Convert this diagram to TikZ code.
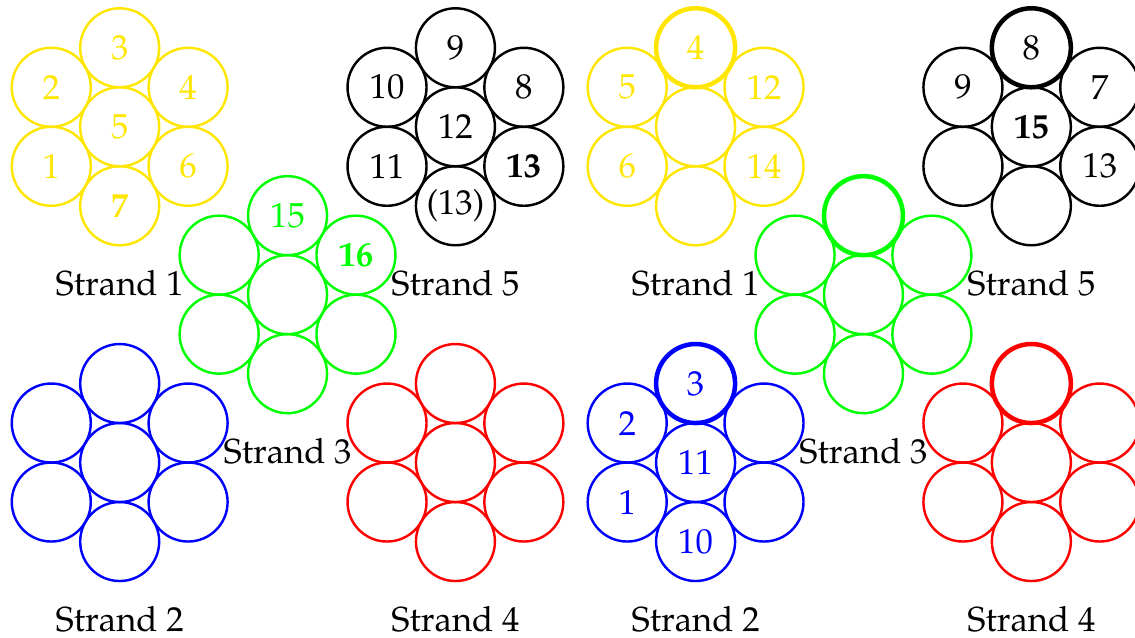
\documentclass[tikz,border=0pt]{standalone}
\usepackage[T1]{fontenc}
\usepackage{mathpazo}
\definecolor{wireyellow}{RGB}{255,230,0}
\definecolor{wiregreen}{RGB}{0,255,0}
\begin{document}
\begin{tikzpicture}[x=0.4cm, y=0.4cm,
  wire/.style={circle, draw, minimum size=8mm, inner sep=0pt, line width=0.7pt},
  lead/.style={line width=1.3pt},
  tag/.style={text=black, inner sep=0pt}]
  \useasboundingbox (0,0) rectangle (28.734,-16.127);
  % strand centres, unit = wire radius
  \coordinate (a1) at (3.03,-3.21);  \coordinate (a5) at (11.53,-3.21);
  \coordinate (a3) at (7.28,-7.46);
  \coordinate (a2) at (3.03,-11.71); \coordinate (a4) at (11.53,-11.71);
  \coordinate (b1) at (17.61,-3.21); \coordinate (b5) at (26.11,-3.21);
  \coordinate (b3) at (21.86,-7.46);
  \coordinate (b2) at (17.61,-11.71); \coordinate (b4) at (26.11,-11.71);
  % left: strand 1
  \begin{scope}[shift={(a1)}, wireyellow]
    \node[wire] (a1t) at (0,2) {3};
    \node[wire] (a1ul) at (-1.732,1) {2}; \node[wire] (a1ur) at (1.732,1) {4};
    \node[wire] (a1c) at (0,0) {5};
    \node[wire] (a1ll) at (-1.732,-1) {1}; \node[wire] (a1lr) at (1.732,-1) {6};
    \node[wire] (a1b) at (0,-2) {\textbf{7}};
    \node[tag] (a1n) at (0,-3.97) {Strand 1};
  \end{scope}
  % left: strand 5
  \begin{scope}[shift={(a5)}, black]
    \node[wire] (a5t) at (0,2) {9};
    \node[wire] (a5ul) at (-1.732,1) {10}; \node[wire] (a5ur) at (1.732,1) {8};
    \node[wire] (a5c) at (0,0) {12};
    \node[wire] (a5ll) at (-1.732,-1) {11}; \node[wire] (a5lr) at (1.732,-1) {\textbf{13}};
    \node[wire] (a5b) at (0,-2) {(13)};
    \node[tag] (a5n) at (0,-3.97) {Strand 5};
  \end{scope}
  % left: strand 3
  \begin{scope}[shift={(a3)}, wiregreen]
    \node[wire] (a3t) at (0,2) {15};
    \node[wire] (a3ul) at (-1.732,1) {}; \node[wire] (a3ur) at (1.732,1) {\textbf{16}};
    \node[wire] (a3c) at (0,0) {};
    \node[wire] (a3ll) at (-1.732,-1) {}; \node[wire] (a3lr) at (1.732,-1) {};
    \node[wire] (a3b) at (0,-2) {};
    \node[tag] (a3n) at (0,-3.97) {Strand 3};
  \end{scope}
  % left: strand 2
  \begin{scope}[shift={(a2)}, blue]
    \node[wire] (a2t) at (0,2) {};
    \node[wire] (a2ul) at (-1.732,1) {}; \node[wire] (a2ur) at (1.732,1) {};
    \node[wire] (a2c) at (0,0) {};
    \node[wire] (a2ll) at (-1.732,-1) {}; \node[wire] (a2lr) at (1.732,-1) {};
    \node[wire] (a2b) at (0,-2) {};
    \node[tag] (a2n) at (0,-3.97) {Strand 2};
  \end{scope}
  % left: strand 4
  \begin{scope}[shift={(a4)}, red]
    \node[wire] (a4t) at (0,2) {};
    \node[wire] (a4ul) at (-1.732,1) {}; \node[wire] (a4ur) at (1.732,1) {};
    \node[wire] (a4c) at (0,0) {};
    \node[wire] (a4ll) at (-1.732,-1) {}; \node[wire] (a4lr) at (1.732,-1) {};
    \node[wire] (a4b) at (0,-2) {};
    \node[tag] (a4n) at (0,-3.97) {Strand 4};
  \end{scope}
  % right: strand 1
  \begin{scope}[shift={(b1)}, wireyellow]
    \node[wire] (b1ul) at (-1.732,1) {5}; \node[wire] (b1ur) at (1.732,1) {12};
    \node[wire] (b1c) at (0,0) {};
    \node[wire] (b1ll) at (-1.732,-1) {6}; \node[wire] (b1lr) at (1.732,-1) {14};
    \node[wire] (b1b) at (0,-2) {};
    \node[wire, lead] (b1t) at (0,2) {4};
    \node[tag] (b1n) at (0,-3.97) {Strand 1};
  \end{scope}
  % right: strand 5
  \begin{scope}[shift={(b5)}, black]
    \node[wire] (b5ul) at (-1.732,1) {9}; \node[wire] (b5ur) at (1.732,1) {7};
    \node[wire] (b5c) at (0,0) {\textbf{15}};
    \node[wire] (b5ll) at (-1.732,-1) {}; \node[wire] (b5lr) at (1.732,-1) {13};
    \node[wire] (b5b) at (0,-2) {};
    \node[wire, lead] (b5t) at (0,2) {8};
    \node[tag] (b5n) at (0,-3.97) {Strand 5};
  \end{scope}
  % right: strand 3
  \begin{scope}[shift={(b3)}, wiregreen]
    \node[wire] (b3ul) at (-1.732,1) {}; \node[wire] (b3ur) at (1.732,1) {};
    \node[wire] (b3c) at (0,0) {};
    \node[wire] (b3ll) at (-1.732,-1) {}; \node[wire] (b3lr) at (1.732,-1) {};
    \node[wire] (b3b) at (0,-2) {};
    \node[wire, lead] (b3t) at (0,2) {};
    \node[tag] (b3n) at (0,-3.97) {Strand 3};
  \end{scope}
  % right: strand 2
  \begin{scope}[shift={(b2)}, blue]
    \node[wire] (b2ul) at (-1.732,1) {2}; \node[wire] (b2ur) at (1.732,1) {};
    \node[wire] (b2c) at (0,0) {11};
    \node[wire] (b2ll) at (-1.732,-1) {1}; \node[wire] (b2lr) at (1.732,-1) {};
    \node[wire] (b2b) at (0,-2) {10};
    \node[wire, lead] (b2t) at (0,2) {3};
    \node[tag] (b2n) at (0,-3.97) {Strand 2};
  \end{scope}
  % right: strand 4
  \begin{scope}[shift={(b4)}, red]
    \node[wire] (b4ul) at (-1.732,1) {}; \node[wire] (b4ur) at (1.732,1) {};
    \node[wire] (b4c) at (0,0) {};
    \node[wire] (b4ll) at (-1.732,-1) {}; \node[wire] (b4lr) at (1.732,-1) {};
    \node[wire] (b4b) at (0,-2) {};
    \node[wire, lead] (b4t) at (0,2) {};
    \node[tag] (b4n) at (0,-3.97) {Strand 4};
  \end{scope}
\end{tikzpicture}
\end{document}
